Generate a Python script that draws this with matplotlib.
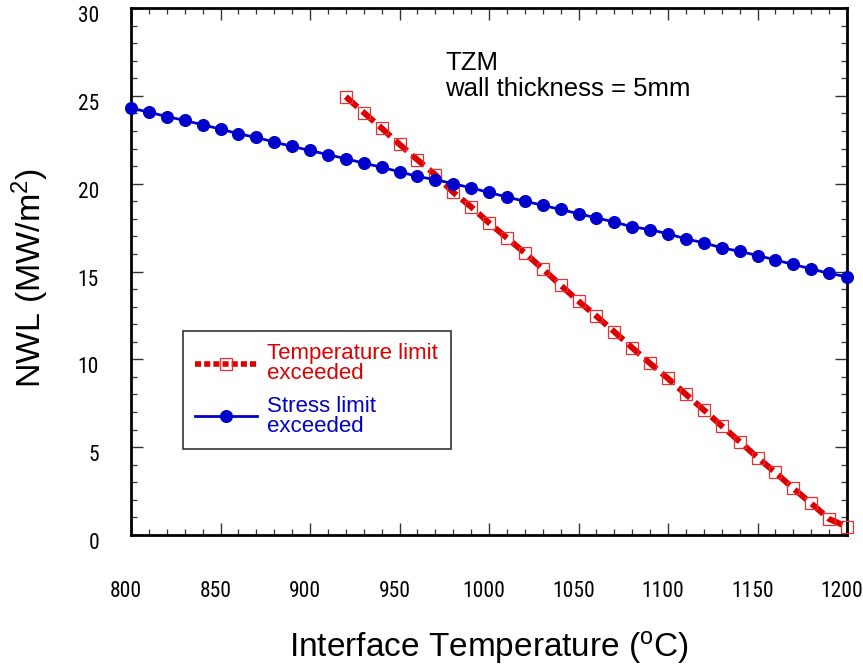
import matplotlib
matplotlib.use("Agg")
import matplotlib.pyplot as plt
import matplotlib.transforms as mtransforms
from matplotlib import font_manager
from matplotlib.font_manager import FontProperties
from matplotlib.ticker import MultipleLocator
from matplotlib.lines import Line2D

# ---------------- data ----------------
stress_temp = [800, 810, 820, 830, 840, 850, 860, 870, 880, 890, 900, 910, 920, 930,
               940, 950, 960, 970, 980, 990, 1000, 1010, 1020, 1030, 1040, 1050, 1060,
               1070, 1080, 1090, 1100, 1110, 1120, 1130, 1140, 1150, 1160, 1170, 1180,
               1190, 1200]
stress_nwl = [24.30, 24.07, 23.82, 23.60, 23.35, 23.11, 22.84, 22.63, 22.37, 22.12,
              21.89, 21.65, 21.42, 21.17, 20.93, 20.68, 20.41, 20.23, 20.00, 19.76,
              19.50, 19.24, 19.00, 18.77, 18.53, 18.29, 18.05, 17.82, 17.54, 17.39,
              17.14, 16.86, 16.63, 16.35, 16.15, 15.91, 15.66, 15.40, 15.15, 14.89,
              14.70]

temp_temp = [920, 930, 940, 950, 960, 970, 980, 990, 1000, 1010, 1020, 1030, 1040,
             1050, 1060, 1070, 1080, 1090, 1100, 1110, 1120, 1130, 1140, 1150, 1160,
             1170, 1180, 1190, 1200]
temp_nwl = [24.95, 24.05, 23.16, 22.24, 21.36, 20.51, 19.51, 18.68, 17.77, 16.91,
            16.06, 15.15, 14.22, 13.31, 12.46, 11.57, 10.66, 9.77, 8.91, 8.01, 7.12,
            6.21, 5.32, 4.41, 3.56, 2.65, 1.80, 0.91, 0.47]

x_ticks = [800, 850, 900, 950, 1000, 1050, 1100, 1150, 1200]
y_ticks = [0, 5, 10, 15, 20, 25, 30]

legend_labels = ["Temperature limit\nexceeded", "Stress limit\nexceeded"]
annotation = "TZM\nwall thickness = 5mm"

# ---------------- style ----------------
main_font = "Liberation Sans"
plt.rcParams["font.family"] = [main_font, "DejaVu Sans"]
plt.rcParams["mathtext.fontset"] = "custom"
plt.rcParams["mathtext.rm"] = main_font
plt.rcParams["mathtext.it"] = main_font

# look for a narrow / condensed sans font for the tick labels
narrow_fp = None
prefs = ["liberation sans narrow", "arial narrow", "roboto condensed",
         "open sans condensed", "noto sans condensed", "dejavu sans condensed"]
entries = font_manager.fontManager.ttflist
for p in prefs:
    for f in entries:
        key = (f.name + " " + str(f.stretch) + " " + f.fname).lower()
        nm = f.name.lower()
        ok = False
        if p in nm:
            ok = True
        elif p.split(" ")[-1] in ("condensed", "narrow"):
            base = p.rsplit(" ", 1)[0]
            if base in nm and ("condensed" in key or "narrow" in key):
                ok = True
        if ok and f.weight in (400, "normal", "regular") and f.style == "normal" \
                and "semi" not in f.fname.lower() and "extra" not in f.fname.lower():
            narrow_fp = FontProperties(fname=f.fname)
            break
    if narrow_fp is not None:
        break

RED = "#dd0000"
BLUE = "#0000cc"

fig = plt.figure(figsize=(8.63, 6.69), dpi=100)
ax = fig.add_axes([131 / 863, 1 - 535 / 669, 716 / 863, 527 / 669])

ax.plot(temp_temp, temp_nwl, color=RED, lw=4.3, linestyle=(0, (2.6, 1.1)),
        marker="s", markersize=8.0, markerfacecolor="none",
        markeredgecolor="#e83030", markeredgewidth=0.9, clip_on=False, zorder=3)
ax.plot(stress_temp, stress_nwl, color=BLUE, lw=2.0, marker="o", markersize=8.4,
        markerfacecolor=BLUE, markeredgecolor=BLUE, clip_on=False, zorder=4)

ax.set_xlim(800, 1200)
ax.set_ylim(0, 30)
ax.set_xticks(x_ticks)
ax.set_yticks(y_ticks)
ax.xaxis.set_minor_locator(MultipleLocator(10))
ax.yaxis.set_minor_locator(MultipleLocator(1))

for s in ax.spines.values():
    s.set_linewidth(2.0)
    s.set_color("black")

tick_size = 15.5 if narrow_fp is not None else 14
ax.tick_params(which="both", direction="in", top=True, right=True, color="#333333")
ax.tick_params(which="major", length=8.5, width=1.0)
ax.tick_params(which="minor", length=4.3, width=0.9)
ax.tick_params(axis="x", which="major", pad=33, labelsize=tick_size)
ax.tick_params(axis="y", which="major", pad=23, labelsize=tick_size)
for lab in ax.get_xticklabels() + ax.get_yticklabels():
    if narrow_fp is not None:
        lab.set_fontproperties(narrow_fp)
        lab.set_fontsize(tick_size)
yoff = mtransforms.ScaledTranslation(0, -6 / 100, fig.dpi_scale_trans)
for lab in ax.get_yticklabels():
    lab.set_transform(lab.get_transform() + yoff)
xoff = mtransforms.ScaledTranslation(-5 / 100, 0, fig.dpi_scale_trans)
for lab in ax.get_xticklabels():
    lab.set_transform(lab.get_transform() + xoff)

fig.text(30 / 863, 1 - 278 / 669, r"NWL (MW/m$^2$)", rotation=90,
         ha="center", va="center", fontsize=24.5)
fig.text(489 / 863, 1 - 647 / 669, r"Interface Temperature ($^{\rm o}$C)",
         ha="center", va="center", fontsize=24)

ax.text((445 - 131) / 716, (535 - 51) / 527, annotation, transform=ax.transAxes,
        ha="left", va="top", fontsize=18.5, linespacing=1.1)

handles = [
    Line2D([], [], color=RED, lw=4.0, linestyle=(0, (1.1, 0.55)), marker="s",
           markersize=8.0, markerfacecolor="none", markeredgecolor="#e83030",
           markeredgewidth=0.9),
    Line2D([], [], color=BLUE, lw=2.0, marker="o", markersize=8.4,
           markerfacecolor=BLUE, markeredgecolor=BLUE),
]
leg = ax.legend(handles, legend_labels, loc="upper left",
                bbox_to_anchor=((183 - 131) / 716, (535 - 331) / 527),
                borderaxespad=0, fancybox=False, framealpha=1, edgecolor="#333333",
                fontsize=16, handlelength=2.8, handletextpad=0.45, borderpad=0.55,
                labelspacing=0.5, numpoints=1)
leg.get_frame().set_linewidth(1.2)
for t, c in zip(leg.get_texts(), [RED, BLUE]):
    t.set_color(c)
    t.set_linespacing(0.95)

fig.savefig("out.png", dpi=100)
